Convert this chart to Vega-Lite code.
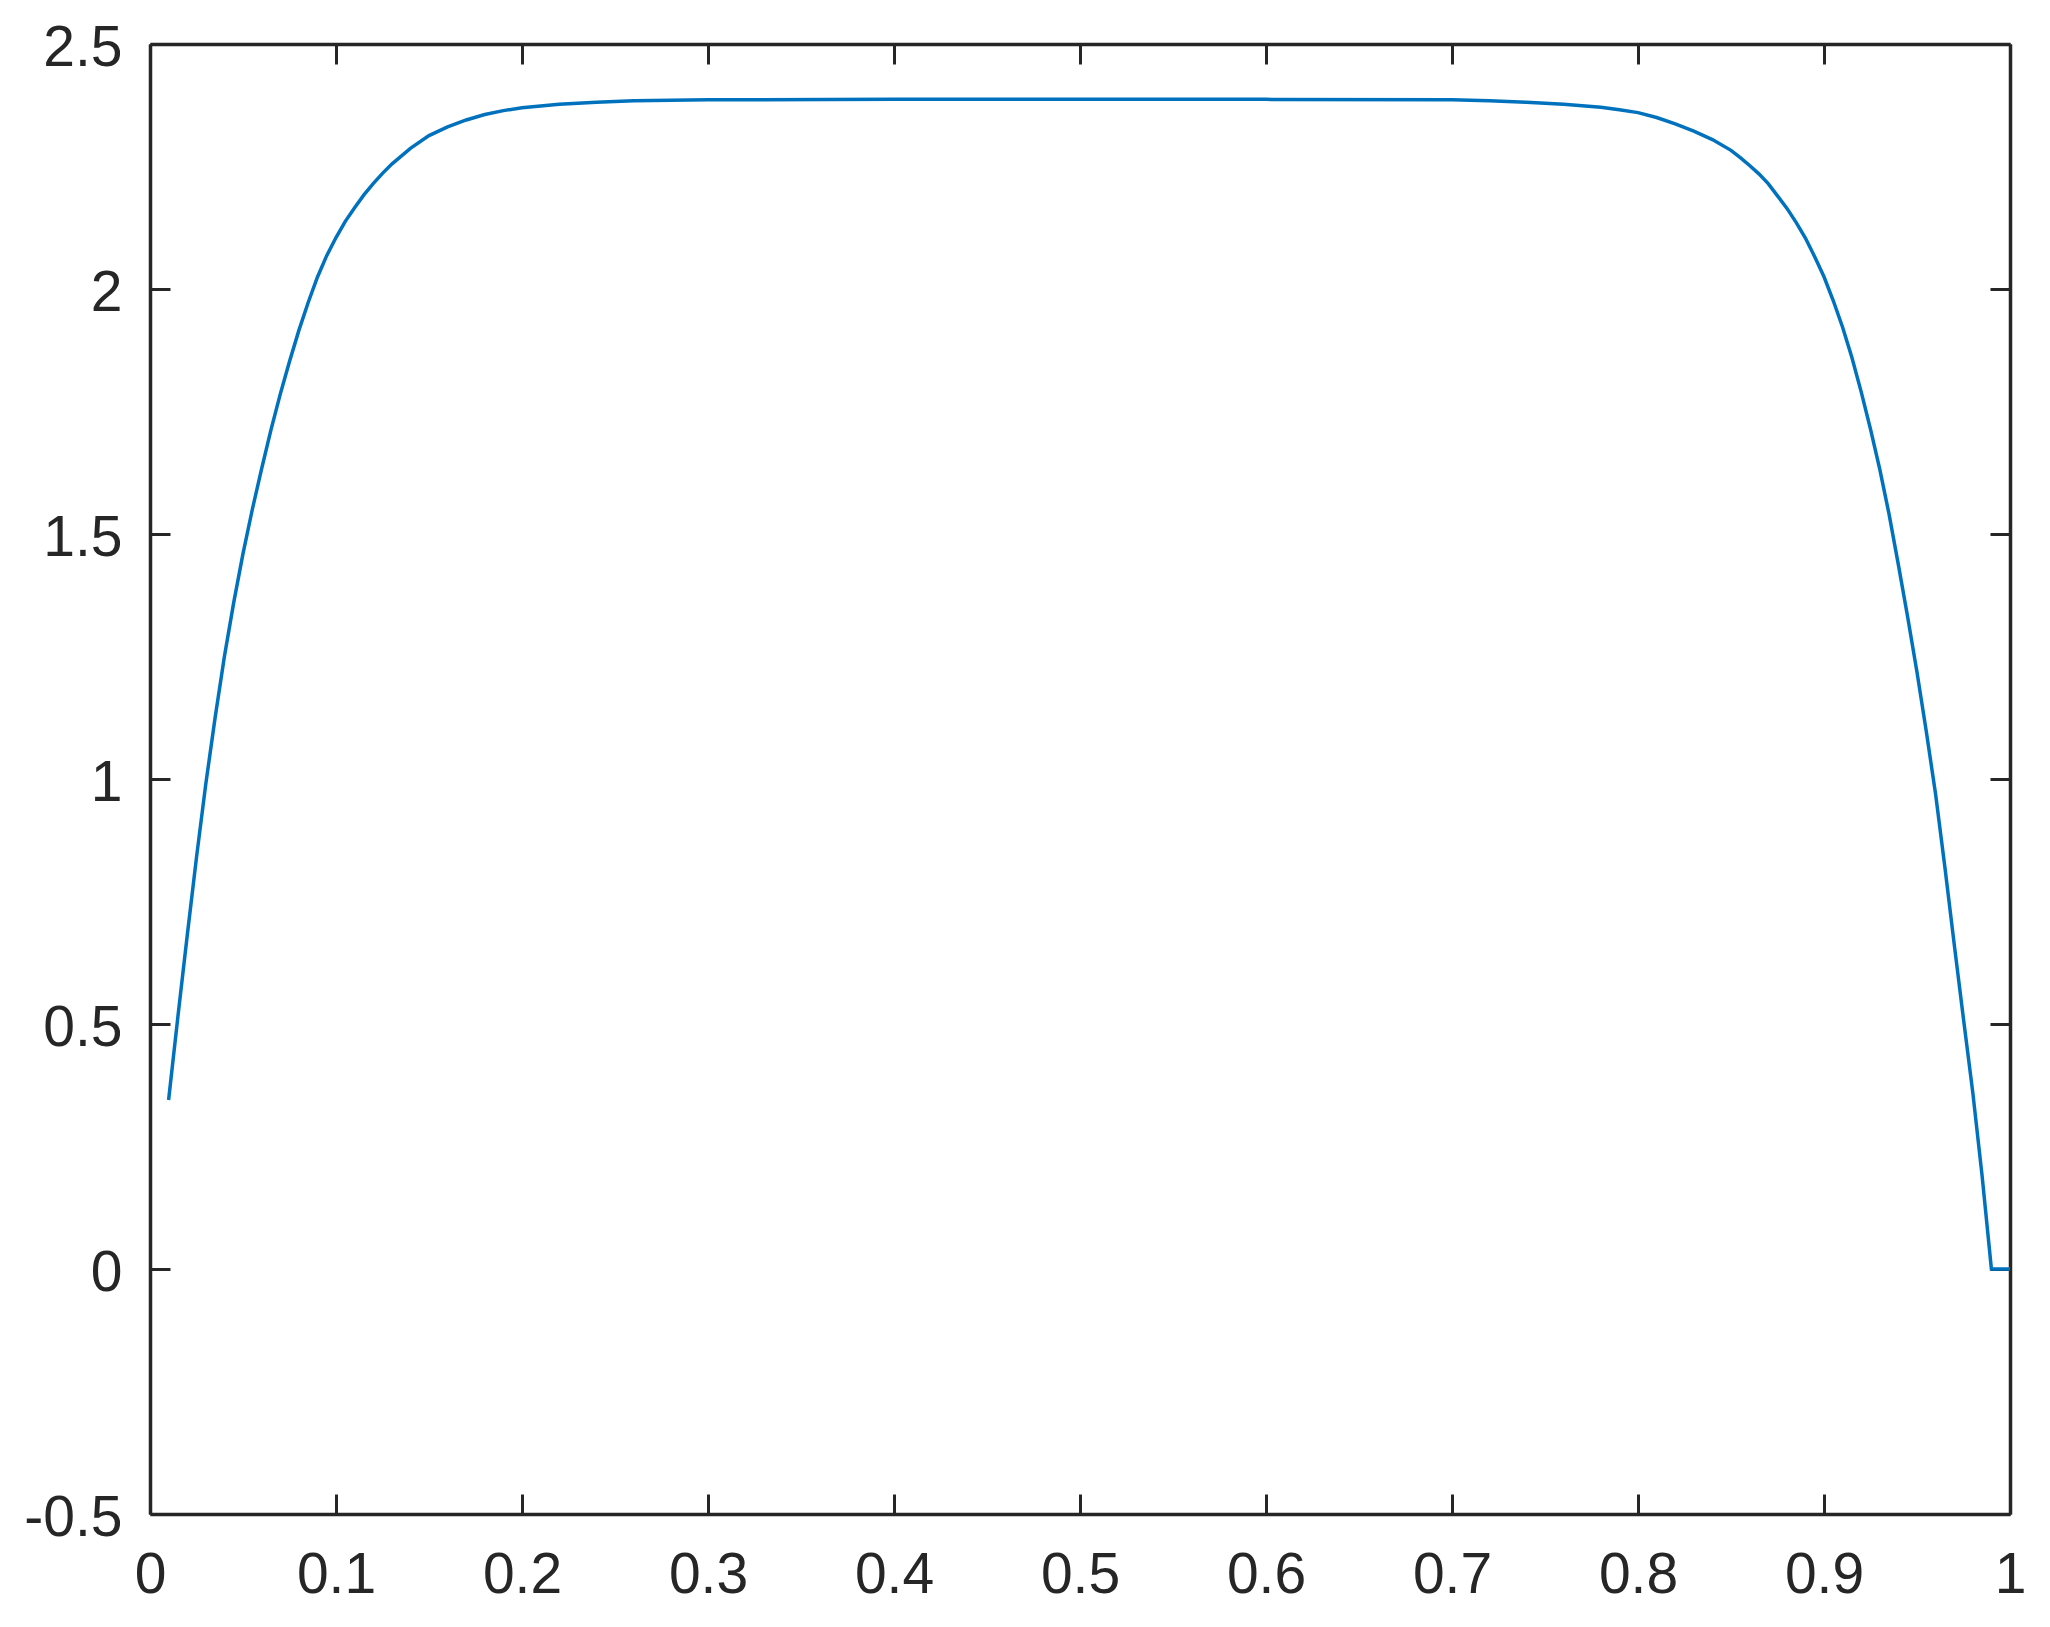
{
  "$schema": "https://vega.github.io/schema/vega-lite/v6.json",
  "width": 1860,
  "height": 1470,
  "autosize": {"type": "none"},
  "padding": {"left": 150, "top": 44, "right": 40, "bottom": 113},
  "background": "white",
  "data": {
    "values": [
      {"x": 0.01, "y": 0.345},
      {"x": 0.015, "y": 0.515},
      {"x": 0.02, "y": 0.68},
      {"x": 0.025, "y": 0.84},
      {"x": 0.03, "y": 0.99},
      {"x": 0.035, "y": 1.125},
      {"x": 0.04, "y": 1.25},
      {"x": 0.045, "y": 1.36},
      {"x": 0.05, "y": 1.46},
      {"x": 0.055, "y": 1.55},
      {"x": 0.06, "y": 1.633},
      {"x": 0.065, "y": 1.712},
      {"x": 0.07, "y": 1.785},
      {"x": 0.075, "y": 1.852},
      {"x": 0.08, "y": 1.915},
      {"x": 0.085, "y": 1.972},
      {"x": 0.09, "y": 2.024},
      {"x": 0.095, "y": 2.068},
      {"x": 0.10, "y": 2.105},
      {"x": 0.105, "y": 2.138},
      {"x": 0.11, "y": 2.166},
      {"x": 0.115, "y": 2.192},
      {"x": 0.12, "y": 2.215},
      {"x": 0.125, "y": 2.236},
      {"x": 0.13, "y": 2.255},
      {"x": 0.14, "y": 2.287},
      {"x": 0.15, "y": 2.313},
      {"x": 0.16, "y": 2.331},
      {"x": 0.17, "y": 2.345},
      {"x": 0.18, "y": 2.356},
      {"x": 0.19, "y": 2.364},
      {"x": 0.20, "y": 2.370},
      {"x": 0.22, "y": 2.377},
      {"x": 0.24, "y": 2.381},
      {"x": 0.26, "y": 2.384},
      {"x": 0.28, "y": 2.385},
      {"x": 0.30, "y": 2.386},
      {"x": 0.40, "y": 2.387},
      {"x": 0.50, "y": 2.387},
      {"x": 0.60, "y": 2.387},
      {"x": 0.70, "y": 2.386},
      {"x": 0.72, "y": 2.384},
      {"x": 0.74, "y": 2.381},
      {"x": 0.76, "y": 2.377},
      {"x": 0.78, "y": 2.371},
      {"x": 0.79, "y": 2.366},
      {"x": 0.80, "y": 2.360},
      {"x": 0.81, "y": 2.350},
      {"x": 0.82, "y": 2.337},
      {"x": 0.83, "y": 2.322},
      {"x": 0.84, "y": 2.305},
      {"x": 0.85, "y": 2.283},
      {"x": 0.855, "y": 2.268},
      {"x": 0.86, "y": 2.252},
      {"x": 0.865, "y": 2.235},
      {"x": 0.87, "y": 2.215},
      {"x": 0.875, "y": 2.19},
      {"x": 0.88, "y": 2.165},
      {"x": 0.885, "y": 2.136},
      {"x": 0.89, "y": 2.104},
      {"x": 0.895, "y": 2.066},
      {"x": 0.90, "y": 2.025},
      {"x": 0.905, "y": 1.976},
      {"x": 0.91, "y": 1.922},
      {"x": 0.915, "y": 1.86},
      {"x": 0.92, "y": 1.79},
      {"x": 0.925, "y": 1.714},
      {"x": 0.93, "y": 1.632},
      {"x": 0.935, "y": 1.54},
      {"x": 0.94, "y": 1.437},
      {"x": 0.945, "y": 1.33},
      {"x": 0.95, "y": 1.218},
      {"x": 0.955, "y": 1.097},
      {"x": 0.96, "y": 0.969},
      {"x": 0.965, "y": 0.82},
      {"x": 0.97, "y": 0.663},
      {"x": 0.975, "y": 0.51},
      {"x": 0.98, "y": 0.36},
      {"x": 0.985, "y": 0.19},
      {"x": 0.99, "y": 0.0},
      {"x": 1.0, "y": 0.0}
    ]
  },
  "layer": [
    {
      "mark": {"type": "line", "color": "#0072BD", "strokeWidth": 3.5, "clip": true},
      "encoding": {
        "x": {
          "field": "x", "type": "quantitative",
          "scale": {"domain": [0, 1], "nice": false, "zero": false},
          "axis": {
            "orient": "bottom", "title": null,
            "values": [0, 0.1, 0.2, 0.3, 0.4, 0.5, 0.6, 0.7, 0.8, 0.9, 1],
            "format": "~g", "labelPadding": 53
          }
        },
        "y": {
          "field": "y", "type": "quantitative",
          "scale": {"domain": [-0.5, 2.5], "nice": false, "zero": false},
          "axis": {
            "orient": "left", "title": null,
            "values": [-0.5, 0, 0.5, 1, 1.5, 2, 2.5],
            "labelExpr": "datum.value < 0 ? '-' + format(-datum.value, '~g') : format(datum.value, '~g')",
            "labelPadding": 48,
            "labelOffset": 4
          }
        }
      }
    },
    {
      "mark": {"type": "line", "opacity": 0},
      "encoding": {
        "x": {
          "field": "x", "type": "quantitative",
          "axis": {
            "orient": "top", "title": null, "labels": false,
            "values": [0, 0.1, 0.2, 0.3, 0.4, 0.5, 0.6, 0.7, 0.8, 0.9, 1]
          }
        },
        "y": {
          "field": "y", "type": "quantitative",
          "axis": {
            "orient": "right", "title": null, "labels": false,
            "values": [-0.5, 0, 0.5, 1, 1.5, 2, 2.5]
          }
        }
      }
    }
  ],
  "resolve": {"axis": {"x": "independent", "y": "independent"}},
  "config": {
    "view": {"stroke": null},
    "axis": {
      "grid": false,
      "domainColor": "#262626",
      "domainWidth": 3.5,
      "tickColor": "#262626",
      "tickWidth": 3,
      "tickSize": -20,
      "labelFont": "Liberation Sans",
      "labelFontSize": 57,
      "labelColor": "#262626",
      "labelFlush": false,
      "labelOverlap": false,
      "labelBound": false
    }
  }
}
